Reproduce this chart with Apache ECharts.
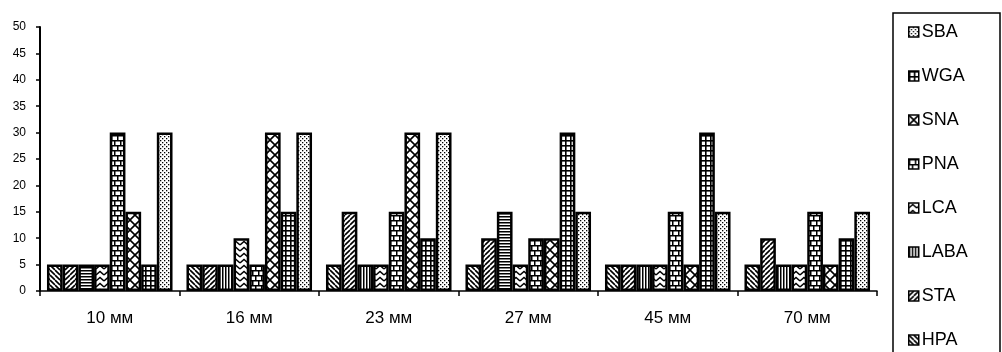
<!DOCTYPE html>
<html>
<head>
<meta charset="utf-8">
<script src="https://cdn.jsdelivr.net/npm/echarts@6/dist/echarts.min.js"></script>
<style>
  html, body { margin: 0; padding: 0; background: #fff; }
  #chart { width: 1002px; height: 352px; }
</style>
</head>
<body>
<div id="chart"></div>
<script>
// categories and values
const categories = ['10 мм', '16 мм', '23 мм', '27 мм', '45 мм', '70 мм'];
const seriesNames = ['HPA', 'STA', 'LABA', 'LCA', 'PNA', 'SNA', 'WGA', 'SBA'];
const hpa  = [5, 5, 5, 5, 5, 5];
const sta  = [5, 5, 15, 10, 5, 10];
const laba = [5, 5, 5, 15, 5, 5];
const lca  = [5, 10, 5, 5, 5, 5];
const pna  = [30, 5, 15, 10, 15, 15];
const sna  = [15, 30, 30, 10, 5, 5];
const wga  = [5, 15, 10, 30, 30, 10];
const sba  = [30, 30, 30, 15, 15, 15];
const yTicks = { min: 0, max: 50, step: 5 };

const values = [hpa, sta, laba, lca, pna, sna, wga, sba];

// black & white fill patterns, one per series
function pattern(w, h, draw) {
  const c = document.createElement('canvas');
  c.width = w; c.height = h;
  const ctx = c.getContext('2d');
  ctx.fillStyle = '#fff';
  ctx.fillRect(0, 0, w, h);
  ctx.fillStyle = '#000';
  ctx.strokeStyle = '#000';
  draw(ctx, w, h);
  return { image: c, repeat: 'repeat' };
}

const diagBack = pattern(5, 5, (ctx, w, h) => {
  ctx.lineWidth = 1.6;
  ctx.beginPath();
  for (let k = -1; k <= 1; k++) { ctx.moveTo(k * w, 0); ctx.lineTo(k * w + w, h); }
  ctx.stroke();
});
const diagFwd = pattern(5, 5, (ctx, w, h) => {
  ctx.lineWidth = 1.6;
  ctx.beginPath();
  for (let k = -1; k <= 1; k++) { ctx.moveTo(k * w, h); ctx.lineTo(k * w + w, 0); }
  ctx.stroke();
});
const vLines = pattern(3, 3, (ctx, w, h) => { ctx.fillRect(0, 0, 1.5, h); });
const hLines = pattern(3, 3, (ctx, w, h) => { ctx.fillRect(0, 0, w, 1.5); });
const chevron = pattern(8, 6, (ctx, w, h) => {
  ctx.lineWidth = 1.5;
  ctx.beginPath();
  ctx.moveTo(0, 5); ctx.lineTo(4, 1.5); ctx.lineTo(8, 5);
  ctx.stroke();
});
const brick = pattern(12, 10, (ctx, w, h) => {
  ctx.fillRect(0, 0, w, h);
  ctx.fillStyle = '#fff';
  ctx.fillRect(1.5, 1.5, 4.5, 3.5);
  ctx.fillRect(7.5, 1.5, 4.5, 3.5);
  ctx.fillRect(0, 6.5, 3, 3.5);
  ctx.fillRect(4.5, 6.5, 4.5, 3.5);
  ctx.fillRect(10.5, 6.5, 1.5, 3.5);
});
const cross = pattern(10, 10, (ctx, w, h) => {
  ctx.lineWidth = 1.6;
  ctx.beginPath();
  ctx.moveTo(0, 0); ctx.lineTo(w, h);
  ctx.moveTo(0, h); ctx.lineTo(w, 0);
  ctx.stroke();
});
const grid = pattern(5, 5, (ctx, w, h) => {
  ctx.fillRect(0, 0, 1.6, h);
  ctx.fillRect(0, 0, w, 1.6);
});
const dots = pattern(4, 4, (ctx) => {
  ctx.fillRect(0, 0, 1.3, 1.3);
  ctx.fillRect(2, 2, 1.3, 1.3);
});

const fills = [diagBack, diagFwd, vLines, chevron, brick, cross, grid, dots];

const series = seriesNames.map((name, i) => ({
  name: name,
  type: 'bar',
  barGap: 0,
  barCategoryGap: '10%',
  itemStyle: { color: fills[i], borderColor: '#000', borderWidth: 2.5 },
  emphasis: { disabled: true },
  data: values[i].map((v, j) => {
    // LABA is printed with horizontal hatching in two groups
    if (name === 'LABA' && (j === 0 || j === 3)) {
      return { value: v, itemStyle: { color: hLines } };
    }
    return v;
  })
}));

const chart = echarts.init(document.getElementById('chart'));
chart.setOption({
  animation: false,
  textStyle: { fontFamily: 'Liberation Sans, Arial, sans-serif', color: '#000' },
  grid: { left: 40, right: 125, top: 27, bottom: 61, containLabel: false, outerBoundsMode: 'none' },
  xAxis: {
    type: 'category',
    data: categories,
    axisLine: { lineStyle: { color: '#000', width: 1.5 } },
    axisTick: { show: true, length: 5, lineStyle: { color: '#000', width: 1.5 } },
    axisLabel: { color: '#000', fontSize: 17, margin: 19 },
    splitLine: { show: false }
  },
  yAxis: {
    type: 'value',
    min: yTicks.min,
    max: yTicks.max,
    interval: yTicks.step,
    axisLine: { show: true, lineStyle: { color: '#000', width: 2 } },
    axisTick: { show: true, length: 4, lineStyle: { color: '#000', width: 1.5 } },
    axisLabel: { color: '#000', fontSize: 12, margin: 14 },
    splitLine: { show: false }
  },
  legend: {
    orient: 'vertical',
    left: 908,
    top: 22,
    padding: 0,
    itemGap: 24,
    itemWidth: 10,
    itemHeight: 10,
    icon: 'rect',
    selectedMode: false,
    data: seriesNames.slice().reverse(),
    itemStyle: { borderColor: '#000', borderWidth: 1.5 },
    textStyle: { color: '#000', fontSize: 18, lineHeight: 20, padding: [0, 0, 0, -2] }
  },
  graphic: [{
    type: 'rect',
    shape: { x: 893, y: 13, width: 107, height: 360 },
    style: { fill: 'none', stroke: '#000', lineWidth: 1.5 },
    silent: true
  }],
  series: series
});
</script>
</body>
</html>
